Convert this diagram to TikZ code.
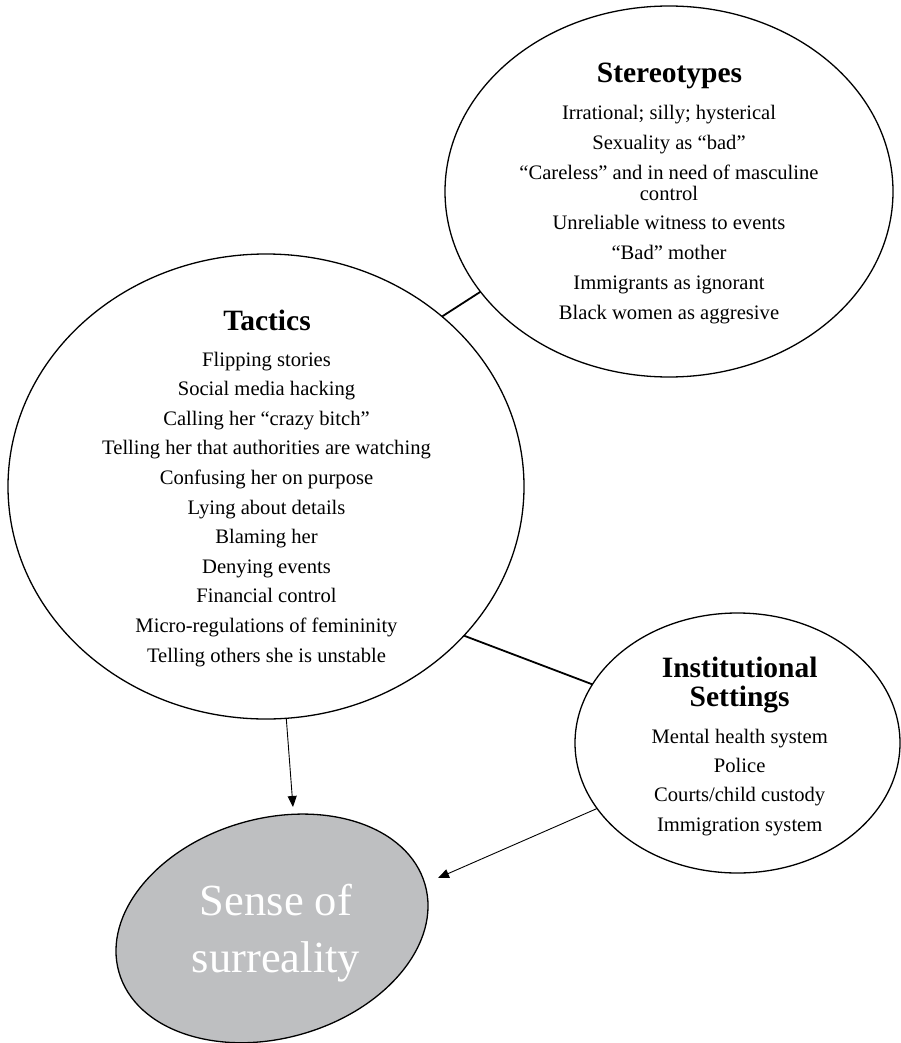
\documentclass[tikz,border=0pt]{standalone}
\usepackage{fontspec}
\setmainfont{Liberation Serif}
\usetikzlibrary{shapes.geometric,arrows.meta}
\definecolor{sensegray}{RGB}{190,191,193}
\begin{document}
\begin{tikzpicture}[x=1pt,y=-1pt,
  bubble/.style={draw, ellipse, inner sep=0pt, outer sep=0pt, line width=1.3pt},
  ttl/.style={font=\fontsize{29.5}{30}\selectfont\bfseries, anchor=base, inner sep=0pt},
  item/.style={font=\fontsize{20.6}{22}\selectfont, anchor=base, inner sep=0pt},
  big/.style={font=\fontsize{44.5}{46}\selectfont, text=white, anchor=base, inner sep=0pt},
  link/.style={line width=1.8pt},
  arr/.style={line width=0.9pt, -{Triangle[length=11pt,width=9pt]}}]
\useasboundingbox (0,0) rectangle (900,1043);

% bubbles
\node[bubble, minimum width=448pt, minimum height=371pt] (ste) at (669,191.5) {};
\node[bubble, minimum width=516pt, minimum height=465pt] (tac) at (266,486.5) {};
\node[bubble, minimum width=325pt, minimum height=260pt] (inst) at (737.5,743) {};
\node[bubble, fill=sensegray, minimum width=318.4pt, minimum height=219.6pt, rotate=16] (sense) at (272,928.4) {};

% connectors
\draw[link] (tac.44.6) -- (ste.208.5);
\draw[link] (tac.-37.6) -- (inst.158.9);
\coordinate (tipA) at (293,807);
\coordinate (tipB) at (438,878);
\draw[arr] (tac.-85.1) -- (tipA);
\draw[arr] (inst.205.2) -- (tipB);

% Stereotypes text
\node[ttl] (steT) at (669.5,83) {Stereotypes};
\node[item] (ste1) at (669,119.5) {Irrational; silly; hysterical};
\node[item] (ste2) at (669,149.5) {Sexuality as “bad”};
\node[item] (ste3) at (669,179.5) {“Careless” and in need of masculine};
\node[item] (ste3b) at (669,200.8) {control};
\node[item] (ste4) at (669,229.5) {Unreliable witness to events};
\node[item] (ste5) at (669,259.5) {“Bad” mother};
\node[item] (ste6) at (669,289.5) {Immigrants as ignorant};
\node[item] (ste7) at (669,319.5) {Black women as aggresive};

% Tactics text
\node[ttl] (tacT) at (267,330) {Tactics};
\node[item] (tac1) at (266.5,366) {Flipping stories};
\node[item] (tac2) at (266.5,395.6) {Social media hacking};
\node[item] (tac3) at (266.5,425.2) {Calling her “crazy bitch”};
\node[item] (tac4) at (266.5,454.8) {Telling her that authorities are watching};
\node[item] (tac5) at (266.5,484.4) {Confusing her on purpose};
\node[item] (tac6) at (266.5,514) {Lying about details};
\node[item] (tac7) at (266.5,543.6) {Blaming her};
\node[item] (tac8) at (266.5,573.2) {Denying events};
\node[item] (tac9) at (266.5,602.8) {Financial control};
\node[item] (tac10) at (266.5,632.4) {Micro-regulations of femininity};
\node[item] (tac11) at (266.5,662) {Telling others she is unstable};

% Institutional text
\node[ttl] (instT1) at (739.7,677.3) {Institutional};
\node[ttl] (instT2) at (739.7,706) {Settings};
\node[item] (inst1) at (739.7,743.3) {Mental health system};
\node[item] (inst2) at (739.7,772.5) {Police};
\node[item] (inst3) at (739.7,801.7) {Courts/child custody};
\node[item] (inst4) at (739.7,831) {Immigration system};

% Sense of surreality text
\node[big] (sense1) at (276,915) {Sense of};
\node[big] (sense2) at (276,972) {surreality};
\end{tikzpicture}
\end{document}
